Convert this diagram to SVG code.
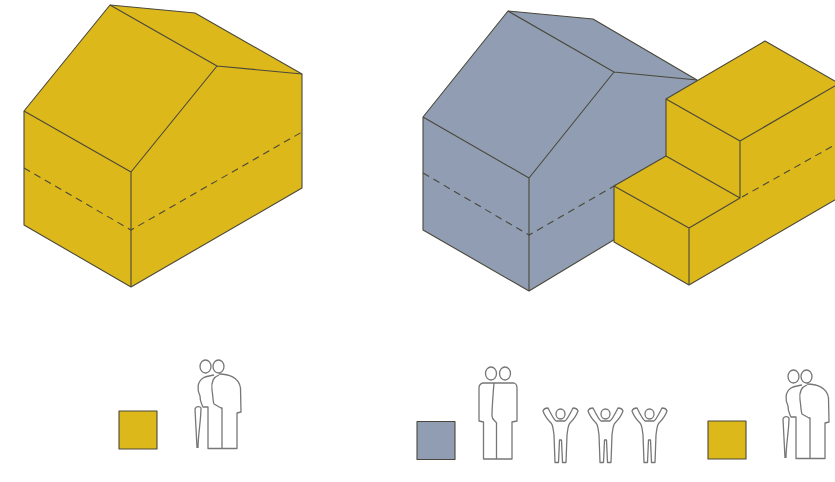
<svg xmlns="http://www.w3.org/2000/svg" width="835" height="482" viewBox="0 0 835 482">
<defs>
<style>
.y{fill:#dcb81a}
.b{fill:#909db2}
.e{stroke:#4a483c;stroke-width:1.100;stroke-linejoin:round;stroke-linecap:round}
.l{fill:none;stroke:#4a483c;stroke-width:1.100;stroke-linejoin:round}
.d{fill:none;stroke:#4a483c;stroke-width:1.100;stroke-dasharray:7 5}
.p{fill:none;stroke:#777;stroke-width:1.300;stroke-linejoin:round}
</style>
<g id="elderly">
<ellipse class="p" cx="205.500" cy="366.500" rx="5.500" ry="6.500"/>
<ellipse class="p" cx="218.500" cy="366.500" rx="5.500" ry="6.500"/>
<path class="p" d="M219 374C228 374 239 377 240.500 388L241 412L237 413L237 448.500L208 448.500L208 407L203 407C201 402 200 402 200 396C197 390 197 382 203 378C206 376 210 376 214 375"/>
<path class="p" d="M219 375C213 377 211 382 212 390C213 396 213 402 214 404L221 408L222 408L222 448.500"/>
<path class="p" d="M197 448L195 409C196 406 200 406 201 408C201 420 198 435 198 448"/>
</g>
<g id="adults">
<ellipse class="p" cx="491" cy="373.500" rx="5.500" ry="6.500"/>
<ellipse class="p" cx="505" cy="373.500" rx="5.500" ry="6.500"/>
<path class="p" d="M483 383L514 383Q517 384 517 388L517 421L512 422L512 459L483.500 459L483.500 422L479 421L479 388Q479 384 483 383Z"/>
<path class="p" d="M494 383C493 395 492 410 492 416C492 420 496 421 496.500 423L496.500 459"/>
</g>
<g id="child">
<ellipse class="p" cx="560.500" cy="414" rx="4.500" ry="5"/>
<path class="p" d="M555 462.500L554 435C553 428 553 425 551 423C547 419 544 414 543 411Q544 408 548 408C550 412 554 420 556 421L565 421C567 420 571 412 573 408Q577 408 578 411C577 414 574 419 570 423C568 425 568 428 567 435L566 462.500L562.500 462.500L561.500 440L559.500 440L558.500 462.500Z"/>
</g>
</defs>
<g id="connectors"></g>
<g id="house-yellow">
<path class="y e" d="M110 5L195 13L302 74L302 188L131 287L24 225L24 111Z"/>
<path class="l" d="M24 111L131 172L217 66L110 5M217 66L302 74M131 172L131 287"/>
<path class="d" d="M24 168L131 230L302 132"/>
</g>
<g id="house-blue">
<path class="b e" d="M508 11L593 19L697 80L700 188L529 291L423 230L423 117Z"/>
<path class="l" d="M423 117L529 178L614 72L508 11M614 72L697 80M529 178L529 291"/>
<path class="d" d="M423 173L529 235L616 185"/>
</g>
<g id="extension-yellow">
<path class="y e" d="M765 41L840 84L840 197L689 285L614 242L614 186L666 156L666 99Z"/>
<path class="l" d="M666 99L740 141L840 83M740 141L740 198M666 156L740 198L689 228L614 186M689 228L689 285"/>
<path class="d" d="M742 197L840 142"/>
</g>
<g id="legend-yellow-left">
<rect class="y e" x="119" y="411" width="38" height="38"/>
<use href="#elderly"/>
</g>
<g id="legend-blue">
<rect class="b e" x="417" y="421.500" width="38" height="38"/>
<use href="#adults"/>
<use href="#child"/>
<use href="#child" x="45"/>
<use href="#child" x="89"/>
</g>
<g id="legend-yellow-right">
<rect class="y e" x="708" y="421" width="38" height="38"/>
<use href="#elderly" x="588" y="10"/>
</g>
</svg>
